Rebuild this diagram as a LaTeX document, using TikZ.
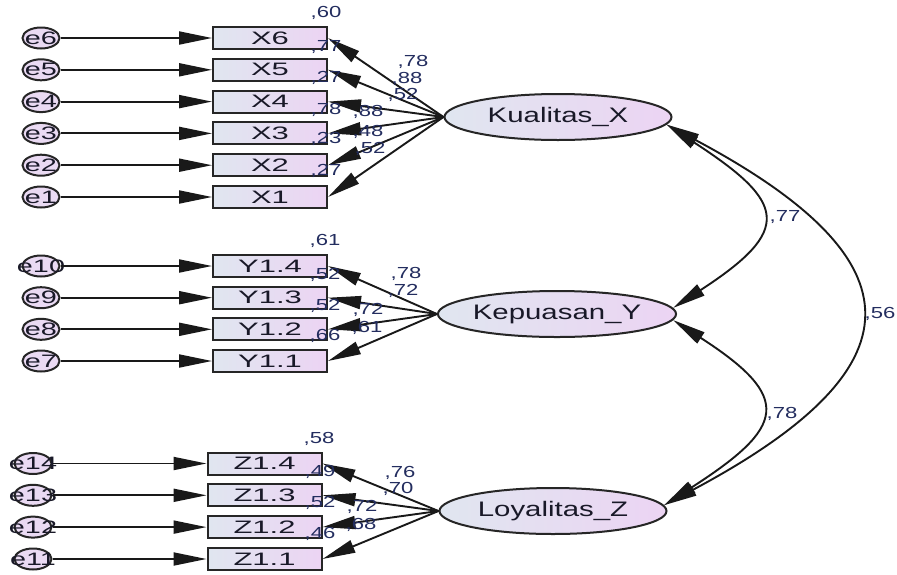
\documentclass[tikz,border=0pt]{standalone}
\usepackage{fontspec}
\setmainfont{Liberation Sans}
\usepackage{graphicx}
\usetikzlibrary{shapes.geometric,arrows.meta}
\definecolor{txtc}{RGB}{25,25,40}
\definecolor{numc}{RGB}{35,45,95}
\definecolor{fillL}{RGB}{224,230,240}
\definecolor{fillR}{RGB}{236,212,243}
\definecolor{errfill}{RGB}{234,218,243}
\newcommand{\hsc}[2]{\scalebox{#1}[1]{#2}}
\begin{document}
\begin{tikzpicture}[x=1pt,y=-1pt,
  obs/.style={draw=black!85, line width=2pt, rectangle, minimum width=114pt, minimum height=22pt, inner sep=0pt, left color=fillL, right color=fillR, text=txtc, font=\fontsize{18}{18}\selectfont},
  lat/.style={draw=black!85, line width=2pt, ellipse, minimum width=227pt, minimum height=46pt, inner sep=0pt, left color=fillL, right color=fillR, text=txtc, font=\fontsize{21}{21}\selectfont},
  err/.style={draw=black!85, line width=2pt, ellipse, minimum width=37pt, minimum height=21pt, inner sep=0pt, fill=errfill, text=txtc, font=\fontsize{18}{18}\selectfont},
  numl/.style={text=numc, font=\fontsize{16}{16}\selectfont, inner sep=0pt},
  link/.style={line width=1.9pt, draw=black!90, -{Triangle[length=33pt,width=13pt]}},
  cov/.style={line width=1.9pt, draw=black!90, {Triangle[length=33pt,width=13pt]}-{Triangle[length=33pt,width=13pt]}}
]
\useasboundingbox (0,0) rectangle (897,574);
\fill[white] (0,0) rectangle (897,574);

% latent variables
\node[lat] (kx) at (558,117) {\hsc{1.4}{Kualitas\_X}};
\node[lat] (ky) at (557,314) {\hsc{1.4}{Kepuasan\_Y}};
\node[lat] (lz) at (553,511) {\hsc{1.4}{Loyalitas\_Z}};

% observed X
\foreach \n/\yy/\e in {6/38/6,5/69.8/5,4/101.6/4,3/133.4/3,2/165.2/2,1/197/1}{
  \node[obs] (x\n) at (270,\yy) {\hsc{1.72}{X\n}};
  \node[err] (ex\n) at (41,\yy) {\makebox[0pt]{\hsc{1.6}{e\e}}};
  \draw[link] (ex\n) -- (x\n);
  \draw[link] (kx.west) -- (x\n.east);
}
% observed Y
\foreach \n/\yy/\e in {4/266/10,3/297.7/9,2/329.3/8,1/361/7}{
  \node[obs] (y\n) at (270,\yy) {\hsc{1.72}{Y1.\n}};
  \node[err] (ey\n) at (41,\yy) {\makebox[0pt]{\hsc{1.6}{e\e}}};
  \draw[link] (ey\n) -- (y\n);
  \draw[link] (ky.west) -- (y\n.east);
}
% observed Z
\foreach \n/\yy/\e in {4/463.5/14,3/495.3/13,2/527.1/12,1/559/11}{
  \node[obs] (z\n) at (264.5,\yy) {\hsc{1.72}{Z1.\n}};
  \node[err] (ez\n) at (33,\yy) {\makebox[0pt]{\hsc{1.6}{e\e}}};
  \draw[link] (ez\n) -- (z\n);
  \draw[link] (lz.west) -- (z\n.east);
}

% covariances
\draw[cov] (kx.-4) .. controls +(120,78) and +(120,-78) .. (ky.3);
\draw[cov] (ky.-3) .. controls +(121,78) and +(121,-78) .. (lz.3);
\draw[cov] (kx.-4) .. controls +(257,137) and +(257,-137) .. (lz.3);

% numbers
\foreach \xx/\yy/\t in {413/62/78,407/79/88,403/95/52,368/112/88,368/132/48,370/149/52,
  326/13/60,326/47/77,326/78/27,326/110/78,326/139/23,326/171/27,
  325/241/61,325/275/52,325/306/52,325/336/66,
  406/274/78,403/291/72,368/310/72,367/328/61,
  319/439/58,320/472/49,320/503/52,320/534/46,
  400/473/76,398/489/70,362/507/72,361/525/68,
  785/217/77,782/414/78,880/314/56}{
  \node[numl] at (\xx,\yy) {\hsc{1.38}{,\t}};
}
\end{tikzpicture}
\end{document}
